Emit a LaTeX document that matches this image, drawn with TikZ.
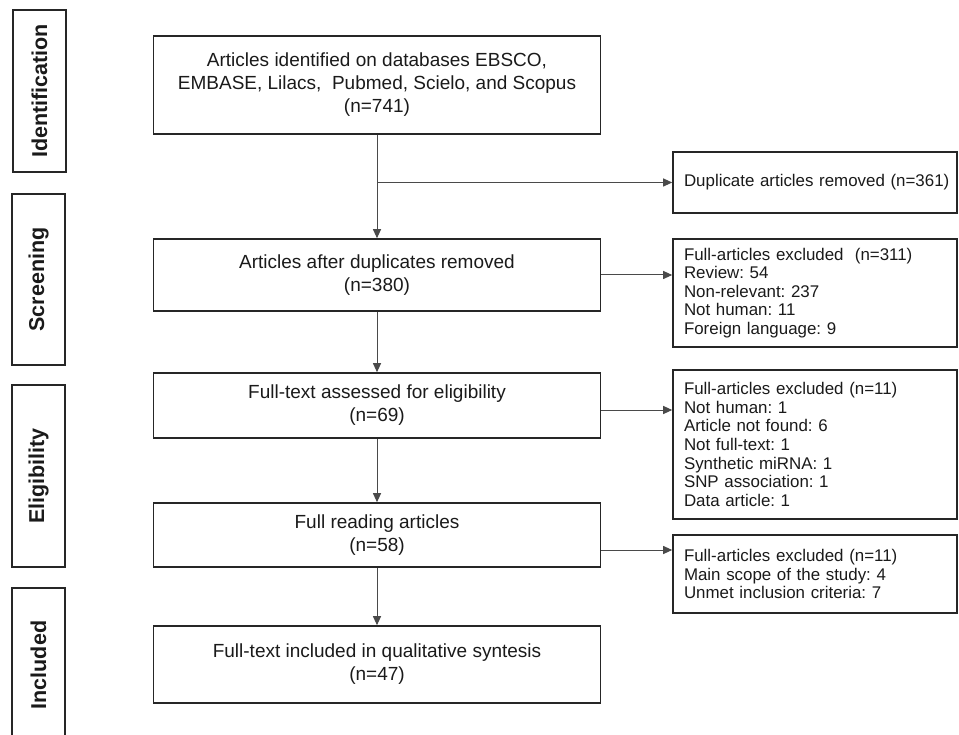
\documentclass[tikz,border=0pt]{standalone}
\usepackage{fontspec}
\setmainfont{Liberation Sans}
\usetikzlibrary{arrows.meta, calc}
\definecolor{lineGray}{HTML}{262626}
\definecolor{arrowGray}{HTML}{4A4A4A}
\definecolor{textBlack}{HTML}{1A1A1A}
\frenchspacing

\begin{document}
\begin{tikzpicture}[x=1pt, y=-1pt,
    every node/.style={text=textBlack},
    mainBox/.style={draw=lineGray, line width=1.6pt, minimum width=447pt, align=center, inner sep=0pt, font=\fontsize{19}{23}\selectfont},
    sideBox/.style={draw=lineGray, line width=1.6pt, minimum width=284pt, text width=278pt, align=left, inner xsep=3pt, inner ysep=0pt, font=\fontsize{16.9}{18.6}\selectfont, execute at begin node={\leftskip=8pt}},
    stageBox/.style={draw=lineGray, line width=1.6pt, rotate=90, minimum height=53pt, inner sep=0pt, font=\bfseries\fontsize{21.5}{24}\selectfont},
    flowArrow/.style={draw=arrowGray, line width=1pt, -{Triangle[length=9pt, width=8pt]}}
]
        \clip (0,0) rectangle (959,735);

        % Stage labels
        \node[stageBox, minimum width=162pt] (stageIdent) at (39.5,91) {Identification};
        \node[stageBox, minimum width=171pt] (stageScreen) at (38.5,279.5) {Screening};
        \node[stageBox, minimum width=182pt] (stageElig) at (38.5,476) {Eligibility};
        \node[stageBox, minimum width=154pt] (stageIncl) at (38.5,665) {Included};

        % Main flow
        \node[mainBox, minimum height=98pt] (ident) at (377,85) {Articles identified on databases EBSCO,\\EMBASE, Lilacs,~ Pubmed, Scielo, and Scopus\\(n=741)};
        \node[mainBox, minimum height=72pt] (dedup) at (377,275) {Articles after duplicates removed\\(n=380)};
        \node[mainBox, minimum height=65pt] (fullText) at (377,405.5) {Full-text assessed for eligibility\\(n=69)};
        \node[mainBox, minimum height=64pt] (reading) at (377,535) {Full reading articles\\(n=58)};
        \node[mainBox, minimum height=77pt] (included) at (377,664.5) {Full-text included in qualitative syntesis\\(n=47)};

        % Exclusions
        \node[sideBox, minimum height=61pt] (dupRemoved) at (815,182.5) {Duplicate articles removed (n=361)};
        \node[sideBox, minimum height=108pt] (exclOne) at (815,293) {Full-articles excluded~ (n=311)\\Review: 54\\Non-relevant: 237\\Not human: 11\\Foreign language: 9};
        \node[sideBox, minimum height=149pt] (exclTwo) at (815,444.5) {Full-articles excluded (n=11)\\Not human: 1\\Article not found: 6\\Not full-text: 1\\Synthetic miRNA: 1\\SNP association: 1\\Data article: 1};
        \node[sideBox, minimum height=78pt] (exclThree) at (815,574) {Full-articles excluded (n=11)\\Main scope of the study: 4\\Unmet inclusion criteria: 7};

        % Connectors
        \draw[flowArrow] (ident.south) -- (dedup.north);
        \draw[flowArrow] (ident.south |- dupRemoved.west) -- (dupRemoved.west);
        \draw[flowArrow] (dedup.south) -- (fullText.north);
        \draw[flowArrow] (fullText.south) -- (reading.north);
        \draw[flowArrow] (reading.south) -- (included.north);
        \draw[flowArrow] (dedup.east) -- (exclOne.west |- dedup.east);
        \draw[flowArrow] ([yshift=-4.5pt]fullText.east) coordinate (ftOut) -- (ftOut -| exclTwo.west);
        \draw[flowArrow] ([yshift=-15pt]reading.east) coordinate (rdOut) -- (rdOut -| exclThree.west);
    \end{tikzpicture}
\end{document}
